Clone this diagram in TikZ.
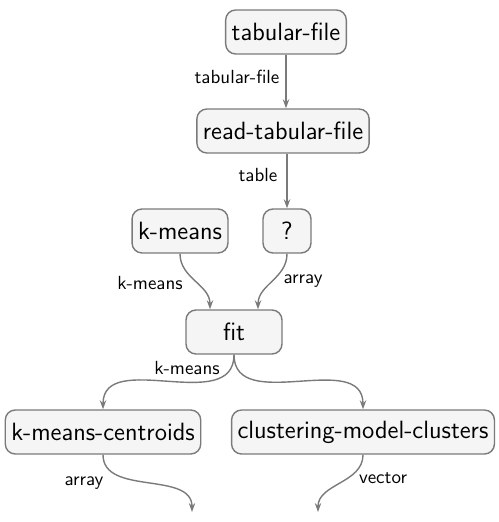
\documentclass[tikz,border=0pt]{standalone}
\usetikzlibrary{arrows.meta,calc}
\definecolor{edgegray}{HTML}{7A7A7A}
\definecolor{boxgray}{HTML}{F5F5F5}
\tikzset{
  task/.style={draw=edgegray, fill=boxgray, rounded corners=5pt, line width=0.7pt,
    minimum height=22pt, inner xsep=3pt, text=black,
    font=\sffamily\fontsize{12.5}{15}\selectfont},
  flow/.style={draw=edgegray, line width=0.7pt, -{Stealth[length=4.5pt,width=3.2pt]}},
  lbl/.style={font=\sffamily\fontsize{9.5}{11}\selectfont, inner sep=0pt}
}
\begin{document}
\begin{tikzpicture}[x=0.5pt,y=-0.5pt]
\useasboundingbox (0,0) rectangle (498,522);
%\draw[step=50,gray,very thin] (0,0) grid (498,522);
\node[task] (tfile) at (286,32) {tabular-file};
\node[task] (read) at (283,131) {read-tabular-file};
\node[task] (kmeans) at (180,231) {k-means};
\node[task, minimum width=24pt] (unknown) at (287,231) {?};
\node[task, minimum width=48pt] (fit) at (234,332) {fit};
\node[task] (centroids) at (103,432) {k-means-centroids};
\node[task] (clusters) at (363,432) {clustering-model-clusters};
\coordinate (outarray) at (192,512);
\coordinate (outvector) at (318,512);

%------------------------------------------------

\draw[flow] (tfile.south) -- (tfile.south |- read.north);
\draw[flow] (read.south -| unknown.north) -- (unknown.north);
\draw[flow] (kmeans.south) to[out=-90,in=90] ($(fit.north)+(-24,0)$);
\draw[flow] (unknown.south) to[out=-90,in=90] ($(fit.north)+(24,0)$);
\draw[flow] (fit.south) to[out=-90,in=90,looseness=1.1] (centroids.north);
\draw[flow] (fit.south) to[out=-90,in=90,looseness=1.1] (clusters.north);
\draw[flow] (centroids.south) to[out=-90,in=90] (outarray);
\draw[flow] (clusters.south) to[out=-90,in=90] (outvector);

\node[lbl] (l1) at (237,77) {tabular-file};
\node[lbl] (l2) at (258,175) {table};
\node[lbl] (l3) at (150,283) {k-means};
\node[lbl] (l4) at (303,281) {array};
\node[lbl] (l5) at (187,368) {k-means};
\node[lbl] (l6) at (84,483) {array};
\node[lbl] (l7) at (383,478) {vector};
\end{tikzpicture}
\end{document}
